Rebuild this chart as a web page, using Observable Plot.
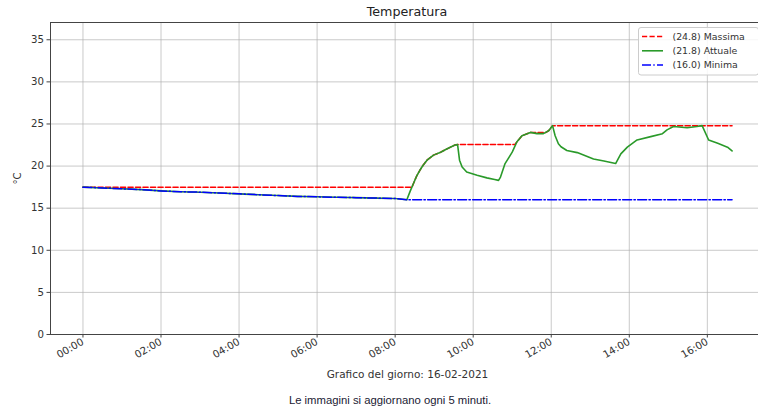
<!DOCTYPE html>
<html><head><meta charset="utf-8">
<script src="https://cdn.jsdelivr.net/npm/d3@7"></script>
<script src="https://cdn.jsdelivr.net/npm/@observablehq/plot@0.6"></script>
<style>
html,body{margin:0;padding:0;background:#fff;overflow:hidden;}
#wrap{position:relative;width:758px;height:410px;overflow:hidden;}
#chart{position:absolute;left:0;top:0;width:766px;}
#chart svg{max-width:none !important;}
#title{position:absolute;left:0;width:814px;top:4px;text-align:center;font:12.7px "DejaVu Sans";color:#222;line-height:15px;}
#xlabel{position:absolute;left:0;width:815px;top:368px;text-align:center;font:10.5px "DejaVu Sans";color:#333;line-height:13px;}
#note{position:absolute;left:0;width:780px;top:394px;text-align:center;font:11.3px "Liberation Sans",Arial,sans-serif;color:#1a1a33;line-height:13px;}
</style></head><body>
<div id="wrap"><div id="chart"></div><div id="title">Temperatura</div><div id="xlabel">Grafico del giorno: 16-02-2021</div><div id="note">Le immagini si aggiornano ogni 5 minuti.</div></div>
<script>
const day = "2021-02-16";
const actTimes = ["00:00","00:30","01:00","01:30","02:00","02:30","03:00","03:30","04:00","04:30","05:00","05:30","06:00","06:30","07:00","07:30","08:00","08:18","08:23","08:28","08:33","08:38","08:43","08:49","08:54","08:59","09:10","09:20","09:32","09:36","09:39","09:43","09:50","10:06","10:21","10:33","10:39","10:42","10:49","11:00","11:07","11:15","11:28","11:38","11:48","11:56","12:02","12:06","12:11","12:15","12:24","12:40","13:05","13:21","13:39","13:47","13:57","14:12","14:33","14:51","14:58","15:08","15:29","15:44","15:52","16:02","16:16","16:31","16:38"];
const actVals = [17.5,17.4,17.3,17.2,17.05,16.95,16.9,16.8,16.7,16.6,16.5,16.4,16.35,16.3,16.25,16.2,16.15,16.0,17.0,17.9,18.8,19.5,20.1,20.7,21.0,21.3,21.65,22.05,22.5,22.55,20.7,19.9,19.3,18.9,18.6,18.4,18.3,18.7,20.3,21.65,22.85,23.6,24.0,23.85,23.85,24.2,24.8,23.6,22.65,22.3,21.85,21.6,20.85,20.6,20.3,21.45,22.25,23.1,23.5,23.85,24.3,24.7,24.55,24.7,24.8,23.1,22.7,22.25,21.8];
const maxTimes = ["00:00","08:26","08:28","08:33","08:38","08:43","08:49","08:54","08:59","09:10","09:20","09:32","09:36","11:04","11:07","11:15","11:28","11:52","11:56","12:02","16:38"];
const maxVals = [17.5,17.5,17.9,18.8,19.5,20.1,20.7,21.0,21.3,21.65,22.05,22.5,22.55,22.55,22.85,23.6,24.0,24.0,24.2,24.8,24.8];
const minTimes = ["00:00","00:30","01:00","01:30","02:00","02:30","03:00","03:30","04:00","04:30","05:00","05:30","06:00","06:30","07:00","07:30","08:00","08:18","16:38"];
const minVals = [17.5,17.4,17.3,17.2,17.05,16.95,16.9,16.8,16.7,16.6,16.5,16.4,16.35,16.3,16.25,16.2,16.15,16.0,16.0];
const yTicks = [0,5,10,15,20,25,30,35];
const xTickLabels = ["00:00","02:00","04:00","06:00","08:00","10:00","12:00","14:00","16:00"];
const seriesNames = ["Massima","Attuale","Minima"];
const yLabel = "°C";

const parse = t => new Date(`${day}T${t}:00Z`);
const toData = (ts, vs) => ts.map((t, i) => ({t: parse(t), v: vs[i]}));
const actData = toData(actTimes, actVals);
const maxData = toData(maxTimes, maxVals);
const minData = toData(minTimes, minVals);
const xTicks = xTickLabels.map(parse);
const t0 = actData[0].t, t1 = actData[actData.length - 1].t;
const pad = (t1 - t0) * 0.05;

const red = "#ff0000", green = "#2a9a2a", blue = "#0000ff";
const dashR = "5.2,2.3", dashB = "9,2.3,1.4,2.3";

const svg = Plot.plot({
  width: 766, height: 385,
  marginLeft: 50, marginRight: 2, marginTop: 22, marginBottom: 51,
  style: {fontFamily: "DejaVu Sans", fontSize: "10.2px", color: "#333", background: "#fff", maxWidth: "none"},
  x: {type: "utc", domain: [new Date(+t0 - pad), new Date(+t1 + pad)]},
  y: {domain: [0, 37.05]},
  marks: [
    Plot.gridX(xTicks, {stroke: "#b0b0b0", strokeOpacity: 0.75, strokeWidth: 0.9}),
    Plot.gridY(yTicks, {stroke: "#b0b0b0", strokeOpacity: 0.75, strokeWidth: 0.9}),
    Plot.line(maxData, {x: "t", y: "v", stroke: red, strokeWidth: 1.5, strokeDasharray: dashR}),
    Plot.line(actData, {x: "t", y: "v", stroke: green, strokeWidth: 1.6}),
    Plot.line(minData, {x: "t", y: "v", stroke: blue, strokeWidth: 1.5, strokeDasharray: dashB}),
    Plot.frame({stroke: "#444", strokeWidth: 1}),
    Plot.axisY(yTicks, {tickSize: 3.5, tickPadding: 3, stroke: "#444", fontSize: 10.2, label: yLabel, labelArrow: "none", labelAnchor: "center", labelOffset: 37}),
    Plot.axisX(xTicks, {tickSize: 3.5, tickPadding: 3, stroke: "#444", fontSize: 10.2, tickRotate: -30, tickFormat: d3.utcFormat("%H:%M"), label: null})
  ]
});
document.getElementById("chart").appendChild(svg);

// legend
const lastVals = [maxVals[maxVals.length-1], actVals[actVals.length-1], minVals[minVals.length-1]];
const colors = [red, green, blue];
const dashes = [dashR, null, dashB];
const g = d3.select(svg).append("g").attr("font-family", "DejaVu Sans").attr("font-size", "9.4px").attr("text-anchor", "start");
g.append("rect").attr("x", 638.5).attr("y", 27.5).attr("width", 120).attr("height", 47.5).attr("rx", 2.5)
  .attr("fill", "#fff").attr("fill-opacity", 0.85).attr("stroke", "#cccccc").attr("stroke-width", 1);
seriesNames.forEach((name, i) => {
  const y = 36.5 + i * 14.3;
  g.append("line").attr("x1", 642).attr("x2", 663).attr("y1", y).attr("y2", y)
    .attr("stroke", colors[i]).attr("stroke-width", i === 1 ? 1.6 : 1.5).attr("stroke-dasharray", dashes[i]);
  g.append("text").attr("x", 672.5).attr("y", y).attr("dy", "0.35em").attr("fill", "#333").attr("text-anchor", "start")
    .text(`(${lastVals[i].toFixed(1)}) ${name}`);
});
</script>
</body></html>
